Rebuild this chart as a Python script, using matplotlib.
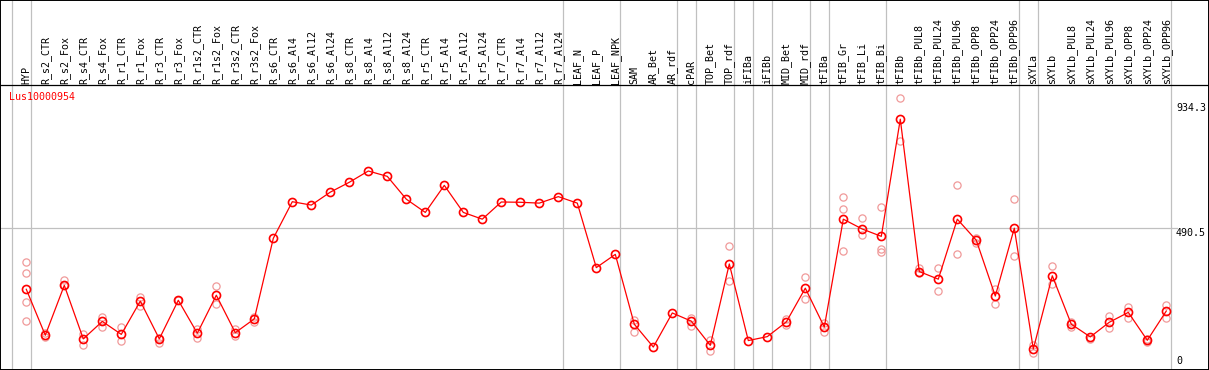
import matplotlib
matplotlib.use("Agg")
import matplotlib.pyplot as plt
import numpy as np

gene = "Lus10000954"

samples = ["HYP", "R_s2_CTR", "R_s2_Fox", "R_s4_CTR", "R_s4_Fox", "R_r1_CTR", "R_r1_Fox",
           "R_r3_CTR", "R_r3_Fox", "R_r1s2_CTR", "R_r1s2_Fox", "R_r3s2_CTR", "R_r3s2_Fox",
           "R_s6_CTR", "R_s6_Al4", "R_s6_Al12", "R_s6_Al24", "R_s8_CTR", "R_s8_Al4",
           "R_s8_Al12", "R_s8_Al24", "R_r5_CTR", "R_r5_Al4", "R_r5_Al12", "R_r5_Al24",
           "R_r7_CTR", "R_r7_Al4", "R_r7_Al12", "R_r7_Al24", "LEAF_N", "LEAF_P", "LEAF_NPK",
           "SAM", "AR_Bet", "AR_rdf", "cPAR", "TOP_Bet", "TOP_rdf", "iFIBa", "iFIBb",
           "MID_Bet", "MID_rdf", "tFIBa", "tFIB_Gr", "tFIB_Li", "tFIB_Bi", "tFIBb",
           "tFIBb_PUL8", "tFIBb_PUL24", "tFIBb_PUL96", "tFIBb_OPP8", "tFIBb_OPP24",
           "tFIBb_OPP96", "sXYLa", "sXYLb", "sXYLb_PUL8", "sXYLb_PUL24", "sXYLb_PUL96",
           "sXYLb_OPP8", "sXYLb_OPP24", "sXYLb_OPP96"]

means = [273, 110, 287, 97, 159, 113, 231, 97, 234, 117, 252, 119, 168,
         454, 584, 572, 618, 653, 693, 674, 593, 546, 642, 546, 522,
         583, 582, 579, 602, 579, 350, 397,
         149, 68, 189, 160, 74, 363, 91, 105, 157, 277, 139,
         522, 487, 461, 877, 336, 309, 522, 447, 249, 490,
         61, 321, 149, 104, 156, 191, 92, 196]

replicates = [[369, 330, 227, 159], [119, 103], [305, 287], [114, 74], [176, 140],
              [140, 88], [247, 214], [100, 83], [234, 234], [132, 99], [285, 220],
              [131, 107], [174, 158],
              [], [], [], [], [], [], [], [], [], [], [], [], [], [], [], [], [], [], [],
              [164, 122], [], [], [172, 143], [93, 53], [427, 301], [], [], [167, 146],
              [316, 238], [154, 122],
              [602, 557, 410], [527, 465], [566, 417, 407], [951, 800], [348, 330],
              [348, 267], [642, 398], [456, 438], [274, 221], [593, 391],
              [75, 46], [356, 292], [158, 140], [96], [178, 136], [211, 170], [96, 87],
              [217, 171]]

# last sample index of each group (separator drawn right after it)
group_ends = [-1, 0, 28, 31, 34, 35, 37, 38, 39, 41, 42, 45, 52, 53, 60]
scale_marks = [934.3, 490.5, 0]

# pixel mapping of the original picture
px_per_col = 19.0
x0_px = 26.3
px_per_unit = 0.28166
zero_px = 366.2
W, H = 1209, 370

def vx(px):
    return (px - x0_px) / px_per_col

def vy(py):
    return (zero_px - py) / px_per_unit

fig = plt.figure(figsize=(W / 100, H / 100), dpi=100)
ax = fig.add_axes([0, 0, 1, 1])
ax.set_xlim(vx(0), vx(W))
ax.set_ylim(vy(H), vy(0))
for s in ax.spines.values():
    s.set_color("black")
    s.set_linewidth(1.4)
ax.set_xticks([])
ax.set_yticks([])

mono = "DejaVu Sans Mono"
fs = 7.2

# frame line under the labels
ax.axhline(vy(85), color="black", lw=0.9)

# group separators
for g in group_ends:
    ax.axvline(g + 0.23, color="#c0c0c0", lw=0.9, zorder=1)

# mid scale line
ax.plot([vx(0), vx(1177)], [scale_marks[1], scale_marks[1]], color="#c0c0c0", lw=0.9, zorder=1)

x = np.arange(len(samples))

for i, name in enumerate(samples):
    ax.text(i, vy(84), name, rotation=90, ha="center", va="bottom",
            fontsize=fs, family=mono, color="black")

# replicate points
rx = [i for i, r in enumerate(replicates) for _ in r]
ry = [v for r in replicates for v in r]
ax.plot(rx, ry, linestyle="none", marker="o", markersize=5.2, markerfacecolor="none",
        markeredgecolor="#f09a9a", markeredgewidth=0.9, zorder=2)

ax.plot(x, means, color="red", lw=0.9, zorder=3)
ax.plot(x, means, linestyle="none", marker="o", markersize=5.8, markerfacecolor="none",
        markeredgecolor="red", markeredgewidth=1.2, zorder=4)

ax.text(vx(9), vy(97), gene, color="red", fontsize=fs, family=mono, ha="left", va="center")

ax.text(vx(1176), scale_marks[0], f"{scale_marks[0]}", fontsize=fs, family=mono, ha="left", va="top")
ax.text(vx(1176), scale_marks[1], f"{scale_marks[1]}", fontsize=fs, family=mono, ha="left", va="top")
ax.text(vx(1176), scale_marks[2], "0", fontsize=fs, family=mono, ha="left", va="bottom")

fig.savefig("out.png", dpi=100)
